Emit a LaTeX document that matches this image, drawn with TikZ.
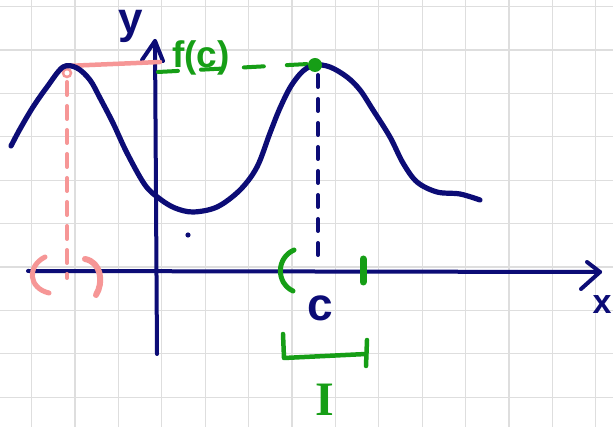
\documentclass[tikz,border=0pt]{standalone}
\usepackage{fontspec}
\setmainfont{Liberation Sans}
\newfontfamily\serifI{Liberation Serif}
\definecolor{inkblue}{RGB}{12,12,118}
\definecolor{inkgreen}{RGB}{22,158,22}
\definecolor{inkpink}{RGB}{246,150,150}
\definecolor{gridgray}{RGB}{222,222,222}
\begin{document}
\begin{tikzpicture}[x=1pt,y=-1pt,
  gridline/.style={draw=gridgray,line width=1.2pt},
  axisline/.style={draw=inkblue,line width=4pt,line cap=round,line join=round},
  curveline/.style={draw=inkblue,line width=5.2pt,line cap=round,line join=round},
  pinkline/.style={draw=inkpink,line width=4.5pt,line cap=round,line join=round},
  greenline/.style={draw=inkgreen,line width=4.5pt,line cap=round,line join=round},
  bluedash/.style={draw=inkblue,line width=4pt,line cap=round,dash pattern=on 12pt off 12pt},
  pinkdash/.style={draw=inkpink,line width=4pt,line cap=round,dash pattern=on 13pt off 11pt},
  greendash/.style={draw=inkgreen,line width=4pt,line cap=round,dash pattern=on 20pt off 23pt},
  lbl/.style={inner sep=0pt,anchor=base}]
\useasboundingbox (0,0) rectangle (613,427);
\fill[white] (0,0) rectangle (613,427);
\clip (0,0) rectangle (613,427);
% grid
\foreach \i in {0,...,13} \draw[gridline] ({31.5+43.4*\i},0) -- ({31.5+43.4*\i},427);
\foreach \j in {0,...,9} \draw[gridline] (0,{6.6+43.4*\j}) -- (613,{6.6+43.4*\j});
% coordinates
\coordinate (xs) at (28,271);
\coordinate (xe) at (600,272);
\coordinate (xa1) at (587,262);
\coordinate (xa2) at (581,289);
\coordinate (ys) at (157,354);
\coordinate (ye) at (155,41);
\coordinate (ya1) at (142,60);
\coordinate (ya2) at (163,61);
\coordinate (peakL) at (66,66);
\coordinate (peakR) at (315,65);
\coordinate (pinkEnd) at (160,62);
\coordinate (pinkFoot) at (67,278);
\coordinate (blueTop) at (318,75);
\coordinate (blueFoot) at (318,259);
\coordinate (gStart) at (158,72);
\coordinate (gEnd) at (308,64);
% axes
\draw[axisline] (xs) -- (xe);
\draw[axisline] (xa1) -- (xe) -- (xa2);
\draw[axisline] (ys) -- (ye);
\draw[axisline] (ya1) -- (ye) -- (ya2);
% pink construction
\draw[pinkline] (peakL) -- (pinkEnd);
\draw[inkpink,line width=2.5pt] (67,73) circle (4);
\draw[pinkdash] (67,82) -- (pinkFoot);
\draw[pinkline,line width=5pt] (45,257) .. controls (27,266) and (28,288) .. (49,293);
\draw[pinkline,line width=6pt] (85,259) .. controls (101,262) and (104,282) .. (96,295);
% green dashed level line
\draw[greendash] (gStart) -- (gEnd);
% curve
\draw[curveline] plot[smooth,tension=0.55] coordinates {
 (11,146) (20,129) (33,107) (47,87) (63,67) (77,68) (90,80) (100,98) (113,123)
 (127,153) (145,185) (160,199) (175,208) (193,212) (217,207) (240,190) (257,167)
 (270,133) (280,108) (291,86) (303,71) (315,65) (330,67) (347,77) (360,90)
 (373,110) (390,137) (403,163) (417,182) (437,192) (460,194) (480,200)};
% blue dashed drop
\draw[bluedash] (blueTop) -- (blueFoot);
% green point
\fill[inkgreen] (peakR) circle (7);
% green interval on axis
\draw[greenline,line width=5pt] (294,250) .. controls (276,258) and (276,283) .. (293,291);
\draw[greenline,line width=7pt] (363,259) -- (363,282);
% interval bracket
\draw[greenline] (283,334) -- (284,358) -- (366,354);
\draw[greenline] (367,340) -- (366,366);
% small dot
\fill[inkblue] (188,235) circle (2.6);
% labels
\node[lbl,text=inkblue,font=\fontsize{44}{44}\selectfont\bfseries] (ylab) at (131,34) {y};
\node[lbl,text=inkblue,font=\fontsize{34}{34}\selectfont\bfseries] (xlab) at (602,314) {x};
\node[lbl,text=inkgreen,font=\fontsize{37}{37}\selectfont\bfseries] (fc) at (201,68) {f(c)};
\node[lbl,text=inkblue,font=\fontsize{46}{46}\selectfont\bfseries] (clab) at (320,321) {c};
\node[lbl,text=inkgreen,font=\fontsize{48}{48}\selectfont\serifI\bfseries] (Ilab) at (325,415) {I};
\end{tikzpicture}
\end{document}
